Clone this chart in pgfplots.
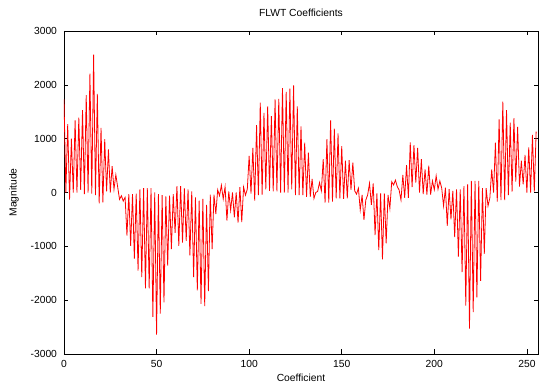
\documentclass[border=0pt]{standalone}
\usepackage{fontspec}
\setmainfont{Liberation Sans}
\usepackage{pgfplots}
\usepackage{pgfplotstable}
\pgfplotsset{compat=1.18}
\pgfplotstableread{
x y
0 1730
1 0
2 1270
3 -130
4 1000
5 0
6 1340
7 0
8 1390
9 50
10 1530
11 -30
12 1810
13 0
14 2210
15 -20
16 2560
17 -50
18 1830
19 -200
20 1200
21 -185
22 990
23 20
24 800
25 0
26 490
27 60
28 330
29 100
30 -130
31 -60
32 -160
33 -90
34 -800
35 -30
36 -990
37 -30
38 -1230
39 -20
40 -1450
41 60
42 -1570
43 80
44 -1780
45 80
46 -1780
47 80
48 -2310
49 0
50 -2640
51 -30
52 -2250
53 -50
54 -2040
55 -70
56 -1360
57 -60
58 -1050
59 -30
60 -750
61 120
62 -990
63 120
64 -930
65 75
66 -900
67 60
68 -1170
69 20
70 -1570
71 -90
72 -1820
73 -150
74 -2070
75 -120
76 -2110
77 -230
78 -1830
79 -40
80 -1050
81 -40
82 -400
83 50
84 -60
85 135
86 -120
87 105
88 -520
89 20
90 -330
91 0
92 -460
93 0
94 -560
95 100
96 -550
97 100
98 -50
99 60
100 680
101 -20
102 830
103 -150
104 1250
105 -50
106 1670
107 -40
108 1480
109 60
110 1600
111 30
112 1420
113 20
114 1730
115 20
116 1740
117 0
118 1940
119 0
120 1870
121 0
122 1930
123 60
124 1990
125 -50
126 1600
127 -50
128 1230
129 -50
130 925
131 -80
132 740
133 -80
134 250
135 -110
136 0
137 20
138 185
139 30
140 620
141 -190
142 990
143 -190
144 1340
145 -170
146 1185
147 -110
148 1100
149 -110
150 860
151 -120
152 590
153 -110
154 600
155 50
156 555
157 30
158 -30
159 80
160 -325
161 -45
162 -510
163 -140
164 -45
165 170
166 -230
167 170
168 -790
169 -15
170 -1070
171 -15
172 -1240
173 -15
174 -945
175 -45
176 -295
177 200
178 140
179 230
180 110
181 45
182 -140
183 325
184 -100
185 510
186 -100
187 930
188 100
189 880
190 185
191 830
192 0
193 620
194 -30
195 430
196 -40
197 500
198 -40
199 215
200 50
201 310
202 60
203 215
204 80
205 -250
206 90
207 -620
208 60
209 -500
210 30
211 -830
212 60
213 -1190
214 60
215 -1480
216 120
217 -2100
218 150
219 -2530
220 215
221 -2220
222 215
223 -1950
224 215
225 -1640
226 80
227 -1140
228 80
229 -250
230 -100
231 430
232 0
233 925
234 -170
235 1360
236 -140
237 1690
238 -140
239 1530
240 -50
241 1300
242 15
243 1380
244 200
245 1220
246 110
247 590
248 150
249 700
250 0
251 840
252 0
253 1070
254 15
255 1130
}\flwt
\begin{document}
\begin{tikzpicture}[font=\fontsize{10.3}{12}\selectfont]
\begin{axis}[
  scale only axis, width=474pt, height=323pt,
  xmin=0, xmax=256, ymin=-3000, ymax=3000,
  xtick={0,50,100,150,200,250},
  xticklabels={0,50,100,150,200,250},
  ytick={-3000,-2000,-1000,0,1000,2000,3000},
  yticklabels={-3000,-2000,-1000,0,1000,2000,3000},
  /pgf/number format/assume math mode=true,
  tick align=inside, major tick length=4.5pt,
  axis line style={line width=0.8pt, black},
  tick style={line width=0.6pt, black},
  yticklabel style={xshift=-3.5pt},
  xticklabel style={yshift=-3pt},
  title={FLWT Coefficients}, xlabel={Coefficient}, ylabel={Magnitude},
  title style={at={(axis description cs:0.5,1.0371)}, anchor=center, inner sep=0pt},
  xlabel style={at={(axis description cs:0.5,-0.0743)}, anchor=center, inner sep=0pt},
  ylabel style={at={(axis description cs:-0.1055,0.5)}, anchor=center, inner sep=0pt},
]
\addplot[red, line width=0.8pt, line join=miter] table[x=x, y=y] {\flwt};
\end{axis}
\pgfresetboundingbox
\path[use as bounding box] ([xshift=-64pt,yshift=-31pt]current axis.south west) rectangle ([xshift=1pt,yshift=31pt]current axis.north east);
\end{tikzpicture}
\end{document}
